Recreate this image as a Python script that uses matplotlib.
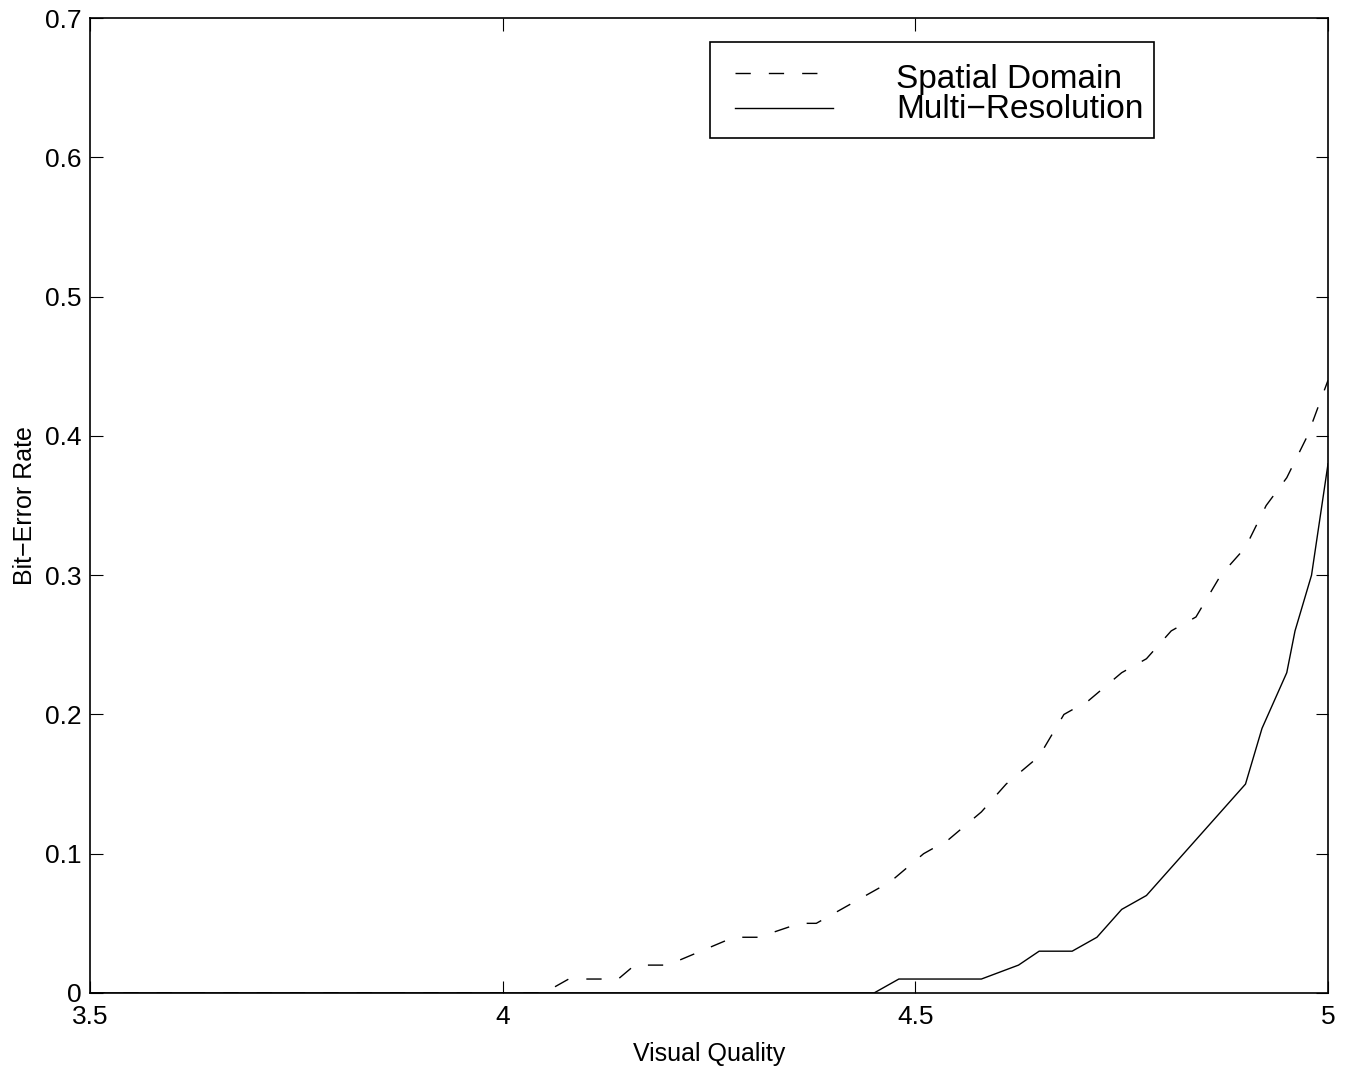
import numpy as np
import matplotlib
matplotlib.use("Agg")
import matplotlib.pyplot as plt
from matplotlib.patches import Rectangle

plt.rcParams['font.family'] = ['Liberation Sans', 'DejaVu Sans']

# data ----------------------------------------------------------------
x_spatial = [3.5, 4.05, 4.08, 4.14, 4.16, 4.2, 4.24, 4.28, 4.31, 4.36, 4.38,
             4.41, 4.44, 4.47, 4.49, 4.51, 4.54, 4.58, 4.61, 4.65, 4.68,
             4.71, 4.75, 4.78, 4.81, 4.84, 4.87, 4.9, 4.925, 4.95, 4.975, 5.0]
ber_spatial = [0, 0, 0.01, 0.01, 0.02, 0.02, 0.03, 0.04, 0.04, 0.05, 0.05,
               0.06, 0.07, 0.08, 0.09, 0.10, 0.11, 0.13, 0.15, 0.17, 0.20,
               0.21, 0.23, 0.24, 0.26, 0.27, 0.30, 0.32, 0.35, 0.37, 0.40, 0.44]

x_multi = [3.5, 4.45, 4.48, 4.58, 4.625, 4.65, 4.69, 4.72, 4.75, 4.78,
           4.9, 4.92, 4.95, 4.96, 4.98, 5.0]
ber_multi = [0, 0, 0.01, 0.01, 0.02, 0.03, 0.03, 0.04, 0.06, 0.07,
             0.15, 0.19, 0.23, 0.26, 0.30, 0.38]

xticks = [3.5, 4, 4.5, 5]
xtick_labels = ["3.5", "4", "4.5", "5"]
yticks = [0, 0.1, 0.2, 0.3, 0.4, 0.5, 0.6, 0.7]
ytick_labels = ["0", "0.1", "0.2", "0.3", "0.4", "0.5", "0.6", "0.7"]
legend_labels = ["Spatial Domain", "Multi\u2212Resolution"]

# plot ----------------------------------------------------------------
fig = plt.figure(figsize=(13.51, 10.70), dpi=100)
ax = fig.add_axes([0.0666, 0.072, 0.9164, 0.911])

dash_style = (11, 13)
ax.plot(x_spatial, ber_spatial, color="black", linewidth=1.0, dashes=dash_style)
ax.plot(x_multi, ber_multi, color="black", linewidth=1.0)

ax.set_xlim(3.5, 5)
ax.set_ylim(0, 0.7)
ax.set_xticks(xticks)
ax.set_xticklabels(xtick_labels)
ax.set_yticks(yticks)
ax.set_yticklabels(ytick_labels)
ax.tick_params(direction="in", length=9, width=0.8, top=True, right=True,
               labelsize=19, colors="black")
ax.tick_params(axis="x", pad=9)
ax.tick_params(axis="y", pad=6)
for sp in ax.spines.values():
    sp.set_linewidth(1.2)

ax.set_xlabel("Visual Quality", fontsize=18, labelpad=9)
ax.set_ylabel("Bit\u2212Error Rate", fontsize=18, labelpad=6)

# legend box, drawn by hand in axes coordinates
tr = ax.transAxes
ax.add_patch(Rectangle((0.5008, 0.8769), 0.3587, 0.0985, transform=tr,
                       fill=True, facecolor="white", edgecolor="black",
                       linewidth=1.2, zorder=5))
ax.plot([0.521, 0.6002], [0.9436, 0.9436], transform=tr, color="black",
        linewidth=1.0, dashes=dash_style, zorder=6)
ax.plot([0.521, 0.6002], [0.9077, 0.9077], transform=tr, color="black",
        linewidth=1.0, zorder=6)
ax.text(0.651, 0.9282, legend_labels[0], transform=tr, fontsize=24,
        va="baseline", ha="left", zorder=6)
ax.text(0.651, 0.8974, legend_labels[1], transform=tr, fontsize=24,
        va="baseline", ha="left", zorder=6)

fig.savefig("out.png", dpi=100)
